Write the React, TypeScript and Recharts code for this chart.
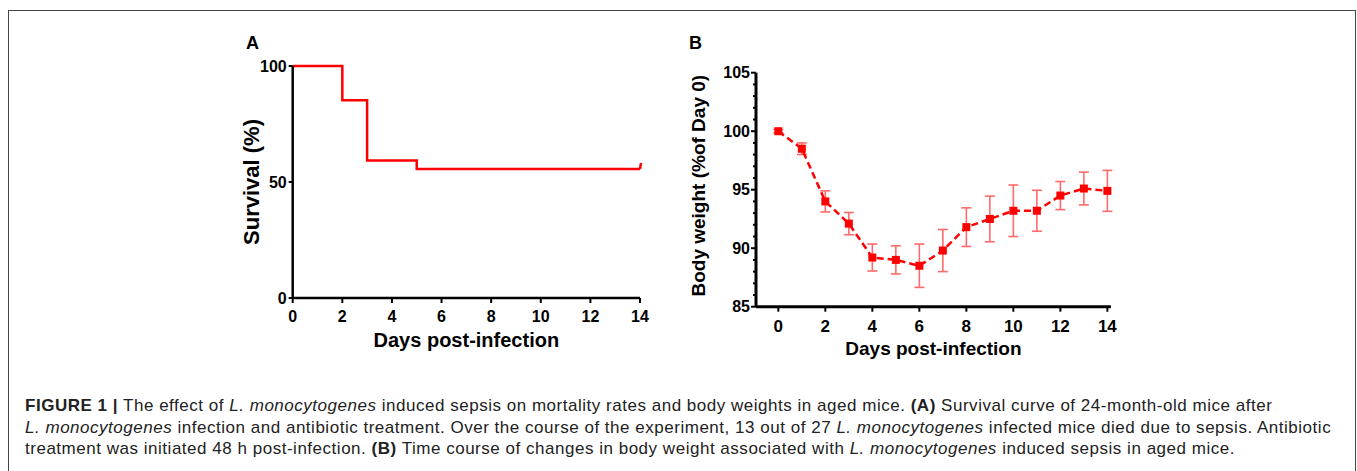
import React from "react";
import { LineChart, Line, XAxis, YAxis, ErrorBar, Label } from "recharts";

// Panel A: Kaplan-Meier survival (step points)
const survivalDays = [0, 2, 3, 5, 14];
const survivalPct = [100, 85.2, 59.3, 55.6, 55.6];
const survivalTicksX = [0, 2, 4, 6, 8, 10, 12, 14];
const survivalTicksY = [0, 50, 100];

// Panel B: body weight mean +/- error
const weightDays = [0, 1, 2, 3, 4, 5, 6, 7, 8, 9, 10, 11, 12, 13, 14];
const weightMean = [100, 98.5, 94.0, 92.1, 89.2, 89.0, 88.5, 89.8, 91.8, 92.5, 93.2, 93.2, 94.5, 95.1, 94.9];
const weightErr = [0.15, 0.5, 0.9, 0.95, 1.15, 1.2, 1.85, 1.8, 1.65, 1.95, 2.2, 1.75, 1.2, 1.4, 1.75];
const weightTicksX = [0, 2, 4, 6, 8, 10, 12, 14];
const weightTicksY = [85, 86, 87, 88, 89, 90, 91, 92, 93, 94, 95, 96, 97, 98, 99, 100, 101, 102, 103, 104, 105];

const survivalData = survivalDays.map((d, i) => ({ day: d, pct: survivalPct[i] }));
const weightData = weightDays.map((d, i) => ({ day: d, w: weightMean[i], err: weightErr[i] }));

const FONT = "'Liberation Sans', Arial, sans-serif";
const RED = "#ff0000";

function CensorDot(props: any) {
  const { cx, cy, index } = props;
  if (index !== survivalData.length - 1) return null;
  return <line x1={cx} y1={cy} x2={cx + 1} y2={cy - 6} stroke={RED} strokeWidth={2.5} />;
}

function SquareDot(props: any) {
  const { cx, cy } = props;
  return <rect x={cx - 4} y={cy - 4} width={8} height={8} fill={RED} />;
}

function WeightYTick(props: any) {
  const { x, y, payload } = props;
  const major = payload.value % 5 === 0;
  return (
    <g>
      <line x1={x - (major ? 5 : 3)} y1={y} x2={x} y2={y} stroke="#000" strokeWidth={2} />
      {major && (
        <text x={x - 6} y={y} dy="0.36em" textAnchor="end" fontFamily={FONT} fontWeight={700} fontSize={16} fill="#000">
          {payload.value}
        </text>
      )}
    </g>
  );
}

export default function App() {
  const tickStyle = { fontFamily: FONT, fontWeight: 700, fill: "#000" };
  return (
    <div style={{ position: "relative", width: 1357, height: 471, background: "#fff", overflow: "hidden" }}>
      <style>{"body{margin:0}"}</style>
      <div
        style={{
          position: "absolute",
          left: 8,
          top: 10,
          width: 1348,
          height: 480,
          border: "1.5px solid #444",
          boxSizing: "border-box",
        }}
      />

      <div style={{ position: "absolute", left: 246, top: 33, fontFamily: FONT, fontWeight: 700, fontSize: 18 }}>A</div>
      <div style={{ position: "absolute", left: 689, top: 33, fontFamily: FONT, fontWeight: 700, fontSize: 18 }}>B</div>

      <div style={{ position: "absolute", left: 200, top: 30 }}>
        <LineChart width={460} height={340} data={survivalData} margin={{ top: 36, right: 20, left: 42.7, bottom: 22 }}>
          <XAxis
            dataKey="day"
            type="number"
            domain={[0, 14]}
            ticks={survivalTicksX}
            height={50}
            stroke="#000"
            strokeWidth={2.5}
            tickSize={5}
            tickMargin={8}
            tick={{ ...tickStyle, fontSize: 16 }}
            tickLine={{ stroke: "#000", strokeWidth: 2 }}
          >
            <Label value="Days post-infection" position="insideBottom" offset={1} style={{ ...tickStyle, fontSize: 20 }} />
          </XAxis>
          <YAxis
            type="number"
            domain={[0, 100]}
            ticks={survivalTicksY}
            width={50}
            stroke="#000"
            strokeWidth={2.5}
            tickSize={4}
            tickMargin={2}
            tick={{ ...tickStyle, fontSize: 16 }}
            tickLine={{ stroke: "#000", strokeWidth: 2 }}
          >
            <Label value="Survival (%)" angle={-90} position="insideLeft" offset={9} style={{ ...tickStyle, fontSize: 22, textAnchor: "middle" }} />
          </YAxis>
          <Line
            type="stepAfter"
            dataKey="pct"
            stroke={RED}
            strokeWidth={2.5}
            dot={<CensorDot />}
            activeDot={false}
            isAnimationActive={false}
          />
        </LineChart>
      </div>

      <div style={{ position: "absolute", left: 680, top: 30 }}>
        <LineChart width={440} height={340} data={weightData} margin={{ top: 42.7, right: 9.1, left: 26, bottom: 13.3 }}>
          <XAxis
            dataKey="day"
            type="number"
            domain={[-0.95, 14.15]}
            ticks={weightTicksX}
            height={50}
            stroke="#000"
            strokeWidth={3}
            tickSize={5}
            tickMargin={8}
            tick={{ ...tickStyle, fontSize: 17 }}
            tickLine={{ stroke: "#000", strokeWidth: 2 }}
          >
            <Label value="Days post-infection" position="insideBottom" offset={2} style={{ ...tickStyle, fontSize: 19 }} />
          </XAxis>
          <YAxis
            type="number"
            domain={[85, 105]}
            ticks={weightTicksY}
            interval={0}
            width={50}
            stroke="#000"
            strokeWidth={3}
            tickSize={0}
            tickMargin={0}
            tickLine={false}
            tick={<WeightYTick />}
          >
            <Label value="Body weight (%of Day 0)" angle={-90} position="insideLeft" offset={-8} dy={-4} style={{ ...tickStyle, fontSize: 19, textAnchor: "middle" }} />
          </YAxis>
          <Line
            type="linear"
            dataKey="w"
            stroke={RED}
            strokeWidth={2.5}
            strokeDasharray="7 4"
            dot={<SquareDot />}
            activeDot={false}
            isAnimationActive={false}
          >
            <ErrorBar dataKey="err" direction="y" width={5} stroke="#ff6a6a" strokeWidth={1.6} />
          </Line>
        </LineChart>
      </div>

      <div
        style={{
          position: "absolute",
          left: 25,
          top: 395,
          fontFamily: FONT,
          fontSize: 17,
          letterSpacing: 0.52,
          lineHeight: "21.5px",
          color: "#222",
          whiteSpace: "nowrap",
        }}
      >
        <b>FIGURE 1 |</b> The effect of <i>L. monocytogenes</i> induced sepsis on mortality rates and body weights in aged mice. <b>(A)</b> Survival curve of 24-month-old mice after
        <br />
        <i>L. monocytogenes</i> infection and antibiotic treatment. Over the course of the experiment, 13 out of 27 <i>L. monocytogenes</i> infected mice died due to sepsis. Antibiotic
        <br />
        treatment was initiated 48 h post-infection. <b>(B)</b> Time course of changes in body weight associated with <i>L. monocytogenes</i> induced sepsis in aged mice.
      </div>
    </div>
  );
}
